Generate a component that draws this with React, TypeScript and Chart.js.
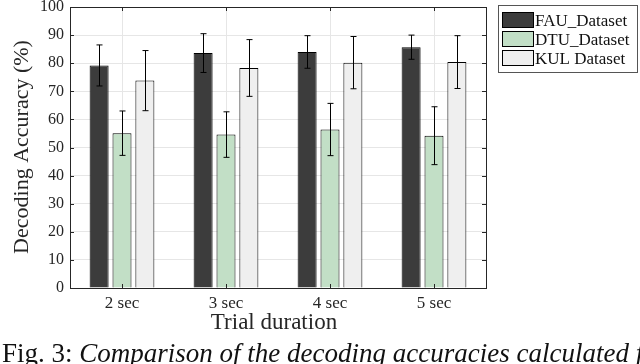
import React, { useEffect, useRef } from "react";
import { Chart, registerables } from "chart.js";

Chart.register(...registerables);

const categories = ["2 sec", "3 sec", "4 sec", "5 sec"];
const seriesNames = ["FAU_Dataset", "DTU_Dataset", "KUL Dataset"];
const fauValues = [79.2, 83.6, 84.0, 85.7];
const fauErrors = [7.3, 6.9, 5.8, 4.3];
const dtuValues = [55.1, 54.6, 56.4, 54.2];
const dtuErrors = [7.9, 8.1, 9.3, 10.3];
const kulValues = [73.8, 78.3, 80.2, 80.4];
const kulErrors = [10.7, 10.1, 9.3, 9.4];
const seriesColors = ["#3c3c3c", "#c2dfc6", "#efefef"];
const yTicks = [0, 10, 20, 30, 40, 50, 60, 70, 80, 90, 100];
const xTitle = "Trial duration";
const yTitle = "Decoding Accuracy (%)";
const captionLead = "Fig. 3:";
const captionRest = " Comparison of the decoding accuracies calculated f";

const SERIF = "'Liberation Serif', 'DejaVu Serif', serif";
const INK = "#262626";

export default function App() {
  const ref = useRef<HTMLCanvasElement | null>(null);

  useEffect(() => {
    const canvas = ref.current;
    if (!canvas) return;
    const errors = [fauErrors, dtuErrors, kulErrors];

    const framePlugin = {
      id: "frame",
      afterDatasetsDraw(chart: any) {
        const { ctx, chartArea: a, scales } = chart;
        ctx.save();
        // error bars
        chart.data.datasets.forEach((ds: any, di: number) => {
          const meta = chart.getDatasetMeta(di);
          meta.data.forEach((bar: any, i: number) => {
            const v = ds.data[i];
            const e = errors[di][i];
            const yTop = scales.y.getPixelForValue(v + e);
            const yBot = scales.y.getPixelForValue(v - e);
            const x = Math.round(bar.x) + 0.5;
            ctx.strokeStyle = "#000";
            ctx.lineWidth = 1;
            ctx.beginPath();
            ctx.moveTo(x, yTop);
            ctx.lineTo(x, yBot);
            ctx.moveTo(x - 3, yTop);
            ctx.lineTo(x + 3, yTop);
            ctx.moveTo(x - 3, yBot);
            ctx.lineTo(x + 3, yBot);
            ctx.stroke();
          });
        });
        // frame
        ctx.strokeStyle = INK;
        ctx.lineWidth = 1;
        ctx.strokeRect(Math.round(a.left) + 0.5, Math.round(a.top) + 0.5, Math.round(a.right - a.left), Math.round(a.bottom - a.top));
        // inward ticks
        ctx.beginPath();
        yTicks.forEach((t) => {
          const y = Math.round(scales.y.getPixelForValue(t)) + 0.5;
          ctx.moveTo(a.left, y);
          ctx.lineTo(a.left + 4, y);
          ctx.moveTo(a.right, y);
          ctx.lineTo(a.right - 4, y);
        });
        categories.forEach((_, i) => {
          const x = Math.round(scales.x.getPixelForValue(i)) + 0.5;
          ctx.moveTo(x, a.bottom);
          ctx.lineTo(x, a.bottom - 4);
          ctx.moveTo(x, a.top);
          ctx.lineTo(x, a.top + 4);
        });
        ctx.stroke();
        ctx.restore();
      },
      afterDraw(chart: any) {
        const { ctx } = chart;
        ctx.save();
        ctx.fillStyle = INK;
        // axis titles
        ctx.font = `23px ${SERIF}`;
        ctx.textAlign = "center";
        ctx.textBaseline = "middle";
        ctx.fillText(xTitle, 274, 323);
        ctx.save();
        ctx.font = `22px ${SERIF}`;
        ctx.translate(22, 147);
        ctx.rotate(-Math.PI / 2);
        ctx.fillText(yTitle, 0, 0);
        ctx.restore();
        // legend
        const lx = 498, ly = 5, lw = 139, lh = 67;
        ctx.fillStyle = "#fff";
        ctx.fillRect(lx, ly, lw, lh);
        ctx.strokeStyle = "#555";
        ctx.lineWidth = 1;
        ctx.strokeRect(lx + 0.5, ly + 0.5, lw, lh);
        ctx.font = `17px ${SERIF}`;
        ctx.textAlign = "left";
        ctx.textBaseline = "alphabetic";
        chart.data.datasets.forEach((ds: any, i: number) => {
          const ry = 12 + i * 19;
          ctx.fillStyle = ds.backgroundColor;
          ctx.fillRect(502, ry, 31, 15);
          ctx.strokeStyle = "#000";
          ctx.strokeRect(502.5, ry + 0.5, 31, 15);
          ctx.fillStyle = "#111";
          ctx.fillText(ds.label, 535, ry + 14);
        });
        // caption
        ctx.fillStyle = "#111";
        ctx.font = `27px ${SERIF}`;
        ctx.fillText(captionLead, 2, 362);
        const w = ctx.measureText(captionLead).width;
        ctx.font = `italic 27px ${SERIF}`;
        ctx.fillText(captionRest, 2 + w, 362);
        ctx.restore();
      },
    };

    const chart = new Chart(canvas, {
      type: "bar",
      data: {
        labels: categories,
        datasets: [fauValues, dtuValues, kulValues].map((vals, i) => ({
          label: seriesNames[i],
          data: vals,
          backgroundColor: seriesColors[i],
          borderColor: "#000",
          borderWidth: 1,
          categoryPercentage: 0.66,
          barPercentage: 0.83,
        })),
      },
      options: {
        responsive: false,
        animation: false,
        layout: { padding: { left: 0, right: 154, top: 7, bottom: 0 } },
        plugins: { legend: { display: false }, tooltip: { enabled: false } },
        scales: {
          x: {
            offset: true,
            grid: { offset: false, color: "#e6e6e6", drawTicks: false },
            border: { display: true, color: INK },
            ticks: { font: { family: SERIF, size: 17 }, color: INK, padding: 5 },
            afterFit: (s: any) => {
              s.height = 76;
              s.paddingLeft = 0;
              s.paddingRight = 0;
            },
          },
          y: {
            min: 0,
            max: 100,
            grid: { color: "#e6e6e6", drawTicks: false },
            border: { display: true, color: INK },
            ticks: { stepSize: 10, font: { family: SERIF, size: 16 }, color: INK, padding: 6 },
            afterBuildTicks: (s: any) => {
              s.ticks = yTicks.map((v) => ({ value: v }));
            },
            afterFit: (s: any) => {
              s.width = 70;
              s.paddingTop = 0;
              s.paddingBottom = 0;
            },
          },
        },
      },
      plugins: [framePlugin],
    });
    return () => chart.destroy();
  }, []);

  return (
    <div style={{ position: "fixed", left: 0, top: 0, width: 640, height: 364, background: "#fff" }}>
      <canvas ref={ref} width={640} height={364} style={{ display: "block" }} />
    </div>
  );
}
